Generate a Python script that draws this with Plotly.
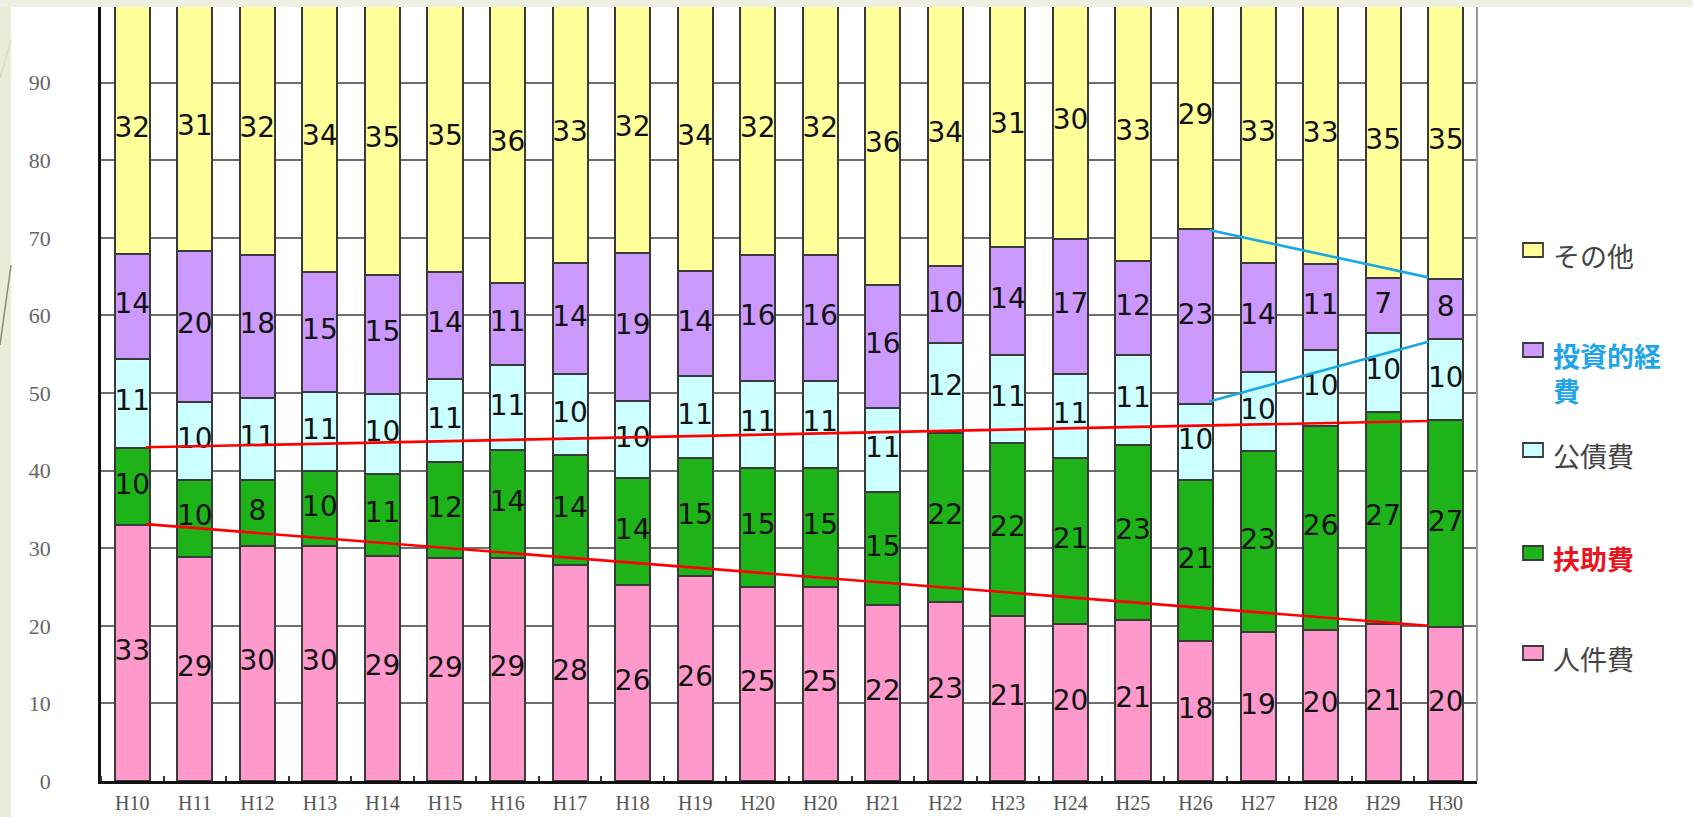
import numpy as np
import plotly.graph_objects as go

# ---------------- data ----------------
categories = ["H10", "H11", "H12", "H13", "H14", "H15", "H16", "H17", "H18", "H19", "H20",
              "H20", "H21", "H22", "H23", "H24", "H25", "H26", "H27", "H28", "H29", "H30"]

# segment heights (%)
personnel = [33.0, 28.9, 30.3, 30.3, 29.0, 28.7, 28.8, 27.9, 25.3, 26.4, 25.0,
             25.0, 22.7, 23.1, 21.3, 20.2, 20.8, 18.0, 19.2, 19.5, 20.2, 19.8]
assistance = [9.9, 9.9, 8.5, 9.6, 10.6, 12.4, 13.8, 14.1, 13.7, 15.2, 15.4,
              15.4, 14.5, 21.8, 22.3, 21.4, 22.5, 20.8, 23.3, 26.3, 27.4, 26.7]
debt = [11.5, 10.1, 10.6, 10.2, 10.3, 10.7, 11.0, 10.4, 10.0, 10.6, 11.1,
        11.1, 10.9, 11.5, 11.3, 10.9, 11.6, 9.8, 10.2, 9.7, 10.1, 10.4]
investment = [13.5, 19.4, 18.4, 15.5, 15.3, 13.8, 10.6, 14.3, 19.0, 13.5, 16.3,
              16.3, 15.8, 10.0, 13.9, 17.3, 12.1, 22.5, 14.1, 11.1, 7.1, 7.8]
other = [32.1, 31.7, 32.2, 34.4, 34.8, 34.4, 35.8, 33.3, 32.0, 34.3, 32.2,
         32.2, 36.1, 33.6, 31.2, 30.2, 33.0, 28.9, 33.2, 33.4, 35.2, 35.3]

# labels printed on the bars
personnel_labels = [33, 29, 30, 30, 29, 29, 29, 28, 26, 26, 25, 25, 22, 23, 21, 20, 21, 18, 19, 20, 21, 20]
assistance_labels = [10, 10, 8, 10, 11, 12, 14, 14, 14, 15, 15, 15, 15, 22, 22, 21, 23, 21, 23, 26, 27, 27]
debt_labels = [11, 10, 11, 11, 10, 11, 11, 10, 10, 11, 11, 11, 11, 12, 11, 11, 11, 10, 10, 10, 10, 10]
investment_labels = [14, 20, 18, 15, 15, 14, 11, 14, 19, 14, 16, 16, 16, 10, 14, 17, 12, 23, 14, 11, 7, 8]
other_labels = [32, 31, 32, 34, 35, 35, 36, 33, 32, 34, 32, 32, 36, 34, 31, 30, 33, 29, 33, 33, 35, 35]

# hand-drawn trend lines (start category index, end category index, start value, end value)
red_upper = (0, 21, 43.0, 46.4)
red_lower = (0, 21, 33.1, 20.0)
blue_upper = (17, 21, 71.0, 64.9)
blue_lower = (17, 21, 48.9, 56.6)

y_ticks = [0, 10, 20, 30, 40, 50, 60, 70, 80, 90, 100]

# ---------------- styling ----------------
W, H = 1693, 817
ML, MR, MT, MB = 101, 216, 5, 36
BAR_W = 0.56
EDGE = "#3a3a3a"

series = [
    ("人件費", personnel, personnel_labels, "#FF99CC", "<span style='color:#444444'>人件費</span>"),
    ("扶助費", assistance, assistance_labels, "#1FB31A", "<span style='color:#E8141E'><b>扶助費</b></span>"),
    ("公債費", debt, debt_labels, "#CCFFFF", "<span style='color:#444444'>公債費</span>"),
    ("投資的経費", investment, investment_labels, "#CC99FF", "<span style='color:#1EA4E8'><b>投資的経<br>費</b></span>"),
    ("その他", other, other_labels, "#FFFF99", "<span style='color:#444444'>その他</span>"),
]

x = np.arange(len(categories))
fig = go.Figure()

base = np.zeros(len(categories))
label_traces = []
for key, vals, labels, color, legend_name in series:
    vals = np.array(vals)
    fig.add_trace(go.Bar(
        x=x, y=vals, name=key, width=BAR_W,
        marker=dict(color=color, line=dict(color=EDGE, width=2)),
        showlegend=False, hoverinfo="skip",
    ))
    label_traces.append(go.Scatter(
        x=x, y=base + vals / 2, mode="text", text=[str(v) for v in labels],
        textfont=dict(family="DejaVu Sans", size=28, color="#111111"),
        showlegend=False, cliponaxis=False, hoverinfo="skip",
    ))
    base = base + vals

for t in label_traces:
    fig.add_trace(t)

def trend(line, color):
    i0, i1, v0, v1 = line
    fig.add_trace(go.Scatter(
        x=[i0 + BAR_W / 2 - 0.06, i1 - BAR_W / 2], y=[v0, v1], mode="lines",
        line=dict(color=color, width=2.6), showlegend=False, hoverinfo="skip",
    ))

trend(red_upper, "#FF0000")
trend(red_lower, "#FF0000")
trend(blue_upper, "#18A8E6")
trend(blue_lower, "#18A8E6")

PW = W - ML - MR
PH = H - MT - MB

def px_x(p):
    return (p - ML) / PW

def px_y(p):
    return 1 - (p - MT) / PH

shapes = [
    # right border of plot area
    dict(type="line", xref="paper", yref="paper", x0=1, x1=1, y0=0, y1=1,
         line=dict(color="#9a9a9a", width=2), layer="above"),
    # slide background strips
    dict(type="rect", xref="paper", yref="paper", x0=px_x(0), x1=px_x(11), y0=px_y(H), y1=px_y(0),
         fillcolor="#E9EDDA", line=dict(width=0), layer="above"),
    dict(type="rect", xref="paper", yref="paper", x0=px_x(0), x1=px_x(W), y0=px_y(7), y1=px_y(0),
         fillcolor="#EEF1E2", line=dict(width=0), layer="above"),
    dict(type="line", xref="paper", yref="paper", x0=px_x(0), x1=px_x(11), y0=px_y(345), y1=px_y(265),
         line=dict(color="#8A9070", width=1.5), layer="above"),
    dict(type="line", xref="paper", yref="paper", x0=px_x(0), x1=px_x(11), y0=px_y(78), y1=px_y(40),
         line=dict(color="#D7DCC4", width=1.5), layer="above"),
]

# legend drawn at the right: top item is the top segment
annotations = []
legend_rows = [250, 350, 450, 553, 653]
for (key, vals, labels, color, legend_name), row in zip(series[::-1], legend_rows):
    shapes.append(dict(type="rect", xref="paper", yref="paper",
                       x0=px_x(1523), x1=px_x(1543), y0=px_y(row + 7), y1=px_y(row - 7),
                       fillcolor=color, line=dict(color=EDGE, width=1.8), layer="above"))
    annotations.append(dict(xref="paper", yref="paper", x=px_x(1551), y=px_y(row - 16),
                            xanchor="left", yanchor="top", align="left", showarrow=False,
                            text=legend_name,
                            font=dict(family="Noto Sans CJK JP", size=27, color="#444444")))

fig.update_layout(
    width=W, height=H,
    margin=dict(l=ML, r=MR, t=MT, b=MB, pad=0, autoexpand=False),
    barmode="stack",
    paper_bgcolor="white", plot_bgcolor="white",
    showlegend=False,
    shapes=shapes,
    annotations=annotations,
    xaxis=dict(
        range=[-0.5, len(categories) - 0.5], automargin=False,
        tickmode="array", tickvals=list(x), ticktext=categories,
        ticks="", ticklabelstandoff=2,
        tickfont=dict(family="Liberation Serif", size=20, color="#555555"),
        showgrid=False, zeroline=False,
        showline=True, linecolor="#111111", linewidth=2.5,
        minor=dict(ticks="inside", ticklen=5, tickwidth=2, tickcolor="#333333",
                   tickmode="array", tickvals=[v - 0.5 for v in range(len(categories) + 1)]),
    ),
    yaxis=dict(
        range=[0, 100], tickmode="array", tickvals=y_ticks, automargin=False,
        ticks="", ticklabelstandoff=43,
        tickfont=dict(family="Liberation Serif", size=22, color="#666666"),
        showgrid=True, gridcolor="#6e6e6e", gridwidth=2,
        zeroline=False, showline=True, linecolor="#111111", linewidth=2.5,
    ),
)

fig.write_html("out.html")
